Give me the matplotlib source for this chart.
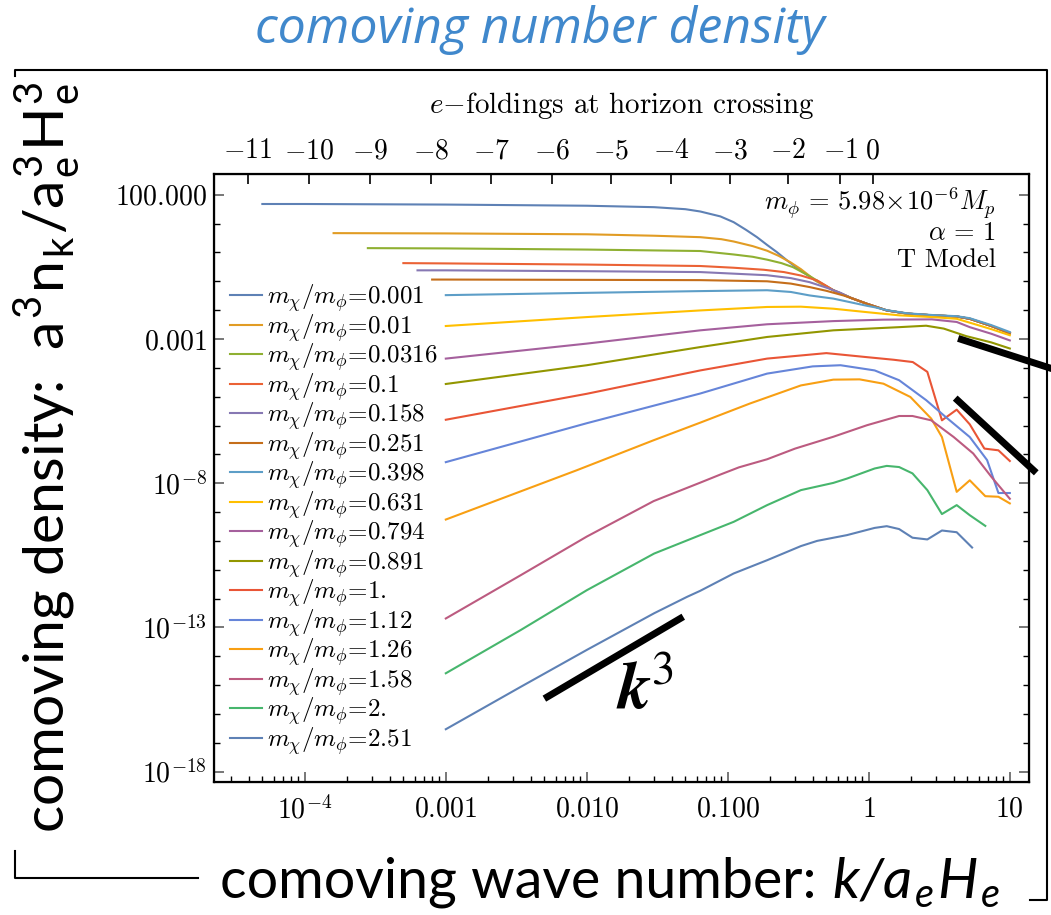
import numpy as np
import matplotlib
matplotlib.use('Agg')
import matplotlib.pyplot as plt
from matplotlib.ticker import NullFormatter, NullLocator

plt.rcParams['font.family'] = 'serif'
plt.rcParams['font.serif'] = ['cmr10']
plt.rcParams['mathtext.fontset'] = 'cm'
plt.rcParams['axes.unicode_minus'] = False

# mass ratios m_chi/m_phi (legend labels)
ratios = ['0.001', '0.01', '0.0316', '0.1', '0.158', '0.251', '0.398', '0.631',
          '0.794', '0.891', '1.', '1.12', '1.26', '1.58', '2.', '2.51']

colors = ['#5E81B5', '#E19C24', '#8FB032', '#EB6235', '#8778B3', '#C56E1A',
          '#5D9EC7', '#FFBF00', '#A5609D', '#929600', '#E95536', '#6685D9',
          '#F89F13', '#BC5B80', '#47B66D', '#5E81B5']

# common tail shared by the light species at large k
k_tail = [0.42, 0.56, 0.75, 0.97, 1.34, 1.87, 2.84, 4.2, 5.2, 7.4, 10]
n_tail = [-0.98, -1.31, -1.58, -1.78, -2.01, -2.12, -2.18, -2.22, -2.30, -2.55, -2.80]

# k/(a_e H_e) and log10 of comoving density, one list per species
k_vals = [
    [5e-5, 1e-4, 1e-3, 0.01, 0.03, 0.05, 0.0638, 0.0885, 0.11, 0.135, 0.161, 0.19, 0.223, 0.27, 0.327] + k_tail,
    [1.6e-4, 1e-3, 0.01, 0.03, 0.0638, 0.09, 0.11, 0.15, 0.19, 0.23, 0.28, 0.33] + k_tail,
    [2.8e-4, 1e-3, 0.01, 0.0638, 0.11, 0.15, 0.19, 0.24, 0.29, 0.38] + k_tail[1:],
    [5e-4, 1e-3, 0.01, 0.0638, 0.11, 0.18, 0.25, 0.33, 0.43, 0.5] + k_tail[1:],
    [6.3e-4, 1e-3, 0.01, 0.0638, 0.19, 0.28, 0.38, 0.5, 0.63] + k_tail[2:],
    [8e-4, 1e-3, 0.01, 0.0638, 0.19, 0.28, 0.38, 0.5, 0.66] + k_tail[2:],
    [1e-3, 0.01, 0.0638, 0.19, 0.28, 0.38, 0.56, 0.73, 0.97, 1.1, 1.34, 1.87, 2.84, 4.2, 5.2, 7.4, 10],
    [1e-3, 0.01, 0.0638, 0.19, 0.33, 0.56, 0.97, 1.64, 2.8, 4.2, 5.5, 7.4, 10],
    [1e-3, 0.01, 0.0638, 0.19, 0.56, 1.27, 2.8, 4.2, 5.2, 7.4, 10],
    [1e-3, 0.01, 0.0638, 0.19, 0.56, 1.64, 2.55, 3.4, 4.9, 7.4, 10],
    [1e-3, 0.01, 0.0638, 0.19, 0.5, 0.97, 1.5, 2.05, 2.6, 3.3, 4.2, 5.2, 6.6, 8.3, 10],
    [1e-3, 0.01, 0.0638, 0.19, 0.4, 0.63, 1.1, 1.64, 2.55, 3.5, 5.2, 6.9, 8.3, 10],
    [1e-3, 0.0085, 0.0298, 0.0638, 0.143, 0.33, 0.56, 0.86, 1.27, 1.97, 2.77, 3.3, 4.2, 5.2, 6.7, 8.3, 10],
    [1e-3, 0.00337, 0.01, 0.0298, 0.0638, 0.0885, 0.12, 0.19, 0.3, 0.56, 0.97, 1.64, 2.04, 2.77, 4.0, 5.5, 7.4, 10],
    [1e-3, 0.0034, 0.01, 0.03, 0.0638, 0.11, 0.19, 0.33, 0.56, 0.7, 1.1, 1.34, 1.64, 2.04, 2.6, 3.3, 4.2, 5.2, 6.7],
    [1e-3, 0.0034, 0.01, 0.03, 0.0514, 0.0638, 0.11, 0.19, 0.33, 0.43, 0.7, 1.1, 1.34, 1.64, 2.04, 2.6, 3.3, 4.2, 5.4],
]
log_n = [
    [1.68, 1.68, 1.66, 1.62, 1.57, 1.50, 1.42, 1.25, 1.05, 0.78, 0.53, 0.26, 0.01, -0.32, -0.62] + n_tail,
    [0.67, 0.66, 0.63, 0.58, 0.53, 0.46, 0.38, 0.22, 0.06, -0.12, -0.35, -0.58] + n_tail,
    [0.15, 0.14, 0.10, 0.05, -0.07, -0.15, -0.25, -0.37, -0.51, -0.82] + n_tail[1:],
    [-0.37, -0.38, -0.42, -0.47, -0.53, -0.60, -0.68, -0.80, -0.97, -1.16] + n_tail[1:],
    [-0.62, -0.62, -0.65, -0.68, -0.79, -0.89, -1.03, -1.22, -1.40] + n_tail[2:],
    [-0.94, -0.94, -0.95, -0.96, -1.00, -1.08, -1.20, -1.33, -1.49] + n_tail[2:],
    [-1.48, -1.40, -1.34, -1.31, -1.37, -1.49, -1.60, -1.72, -1.85, -1.90, -2.00, -2.11, -2.17, -2.21, -2.28, -2.52, -2.76],
    [-2.55, -2.24, -2.01, -1.89, -1.88, -1.95, -2.07, -2.18, -2.24, -2.30, -2.47, -2.66, -2.87],
    [-3.68, -3.16, -2.70, -2.49, -2.38, -2.33, -2.32, -2.41, -2.59, -2.82, -3.05],
    [-4.56, -3.91, -3.28, -2.93, -2.70, -2.59, -2.54, -2.64, -2.90, -3.12, -3.33],
    [-5.80, -4.90, -4.09, -3.68, -3.49, -3.63, -3.72, -3.80, -4.14, -5.82, -5.45, -5.96, -6.80, -6.86, -7.23],
    [-7.27, -5.92, -4.89, -4.20, -3.95, -3.91, -4.09, -4.43, -5.12, -5.70, -6.40, -7.20, -8.34, -8.34],
    [-9.26, -7.55, -6.51, -5.90, -5.24, -4.61, -4.41, -4.40, -4.55, -5.01, -5.76, -6.40, -8.30, -7.90, -8.45, -8.47, -8.70],
    [-12.69, -11.20, -9.85, -8.62, -7.98, -7.70, -7.45, -7.17, -6.80, -6.39, -5.99, -5.67, -5.67, -5.82, -6.40, -6.97, -7.78, -8.54],
    [-14.59, -13.09, -11.71, -10.44, -9.80, -9.34, -8.76, -8.24, -7.99, -7.84, -7.49, -7.40, -7.44, -7.66, -8.24, -9.07, -8.76, -9.11, -9.48],
    [-16.53, -15.06, -13.78, -12.51, -11.94, -11.73, -11.13, -10.67, -10.18, -10.00, -9.80, -9.55, -9.49, -9.59, -9.89, -9.95, -9.64, -9.70, -10.23],
]

# top axis: e-foldings at horizon crossing and the k where they sit
efold_labels = ['-11', '-10', '-9', '-8', '-7', '-6', '-5', '-4', '-3', '-2', '-1', '0']
efold_logk = [-4.405, -3.968, -3.540, -3.106, -2.677, -2.249, -1.825, -1.401, -0.984, -0.576, -0.201, 0.028]

# guide lines (k, log10 n)
k3_line = ([0.005, 0.0483], [-15.47, -12.63])
slope_a = ([4.3, 30.0], [-2.98, -4.31])
slope_b = ([4.1, 15.4], [-5.05, -7.64])

fig = plt.figure(figsize=(10.51, 9.15), dpi=100)
ax = fig.add_axes([214/1051, 1-782.3/915, 815/1051, 608.3/915])

for i in range(len(ratios)):
    ax.plot(k_vals[i], 10.0**np.array(log_n[i]), color=colors[i], lw=1.5,
            label=r'$m_\chi/m_\phi$=' + ratios[i])

ax.set_xscale('log')
ax.set_yscale('log')

ax.set_xticks([1e-4, 1e-3, 1e-2, 1e-1, 1, 10])
ax.set_xticklabels([r'$10^{-4}$', r'$0.001$', r'$0.010$', r'$0.100$', r'$1$', r'$10$'], fontsize=20)
ax.set_xticks([m*10.0**e for e in range(-5, 2) for m in range(2, 10)], minor=True)
ax.set_yticks([1e2, 1e-3, 1e-8, 1e-13, 1e-18])
ax.set_yticklabels([r'$100.000$', r'$0.001$', r'$10^{-8}$', r'$10^{-13}$', r'$10^{-18}$'], fontsize=20)
ax.set_yticks([10.0**e for e in range(-18, 3)], minor=True)
ax.xaxis.set_minor_formatter(NullFormatter())
ax.yaxis.set_minor_formatter(NullFormatter())
ax.set_xlim(10**-4.644, 10**1.136)
ax.set_ylim(10**-18.37, 10**2.72)
ax.tick_params(axis='both', which='major', direction='in', length=7, width=1.4, color='#777777')
ax.tick_params(axis='both', which='minor', direction='in', length=4, width=1.0, color='black')
ax.tick_params(axis='y', which='both', right=True)
ax.tick_params(axis='x', which='both', top=False, pad=10)
ax.tick_params(axis='y', which='major', pad=5)
for s in ax.spines.values():
    s.set_linewidth(1.6)

ax2 = ax.twiny()
ax2.set_xscale('log')
ax2.set_xlim(ax.get_xlim())
ax2.set_xticks(10.0**np.array(efold_logk))
ax2.set_xticklabels(['$' + s + '$' for s in efold_labels], fontsize=20)
ax2.xaxis.set_minor_locator(NullLocator())
ax2.tick_params(axis='x', direction='in', length=7, width=1.2, pad=7)
ax2.set_xlabel(r'$e{-}$foldings at horizon crossing', fontsize=21, labelpad=18)

leg = ax.legend(loc='upper left', bbox_to_anchor=(0.02, 0.822), frameon=False,
                fontsize=18, handlelength=1.25, handletextpad=0.2, labelspacing=-0.09,
                borderpad=0, borderaxespad=0.0)

ax.text(0.9595, 0.952, r'$m_\phi\,=\,5.98\!\times\!10^{-6}M_p$', transform=ax.transAxes,
        ha='right', va='center', fontsize=19)
ax.text(0.9595, 0.9035, r'$\alpha\,=\,1$', transform=ax.transAxes, ha='right', va='center', fontsize=19)
ax.text(0.9595, 0.8586, 'T Model', transform=ax.transAxes, ha='right', va='center', fontsize=19)

# guide lines
for xs, ys in [k3_line, slope_a, slope_b]:
    ax.plot(xs, 10.0**np.array(ys), color='black', lw=5, clip_on=False, solid_capstyle='butt')
ax.text(0.026, 10**-15.2, r'$\mathbfit{k}^{3}$', fontsize=48, ha='center', va='center',
        math_fontfamily='stix')

# outer frame and slide labels
ov = fig.add_axes([0, 0, 1, 1], facecolor='none')
ov.set_xlim(0, 1051)
ov.set_ylim(915, 0)
ov.axis('off')
ov.plot([15, 15, 1047, 1047, 1030], [76, 69.5, 69.5, 900, 900], color='black', lw=1.5)
ov.plot([15, 15, 198], [851, 878, 878], color='black', lw=1.5)

fig.text(540/1051, 1-30/915, 'comoving number density', fontsize=36, color='#4088CC',
         family='Open Sans', style='italic', ha='center', va='center')
fig.text(48/1051, 1-457/915,
         'comoving density:  a$^\\mathregular{3}$n$_\\mathregular{k}$/a$_\\mathregular{e}^\\mathregular{3}$H$_\\mathregular{e}^\\mathregular{3}$',
         fontsize=41, family='Lato', rotation=90, ha='center', va='center')
fig.text(220/1051, 1-898/915, 'comoving wave number:', fontsize=40, family='Lato',
         ha='left', va='baseline')
fig.text(1000/1051, 1-898/915, 'k/a$_\\mathregular{e}$H$_\\mathregular{e}$', fontsize=41,
         family='Lato', style='italic', ha='right', va='baseline')

fig.savefig('out.png', dpi=100)
